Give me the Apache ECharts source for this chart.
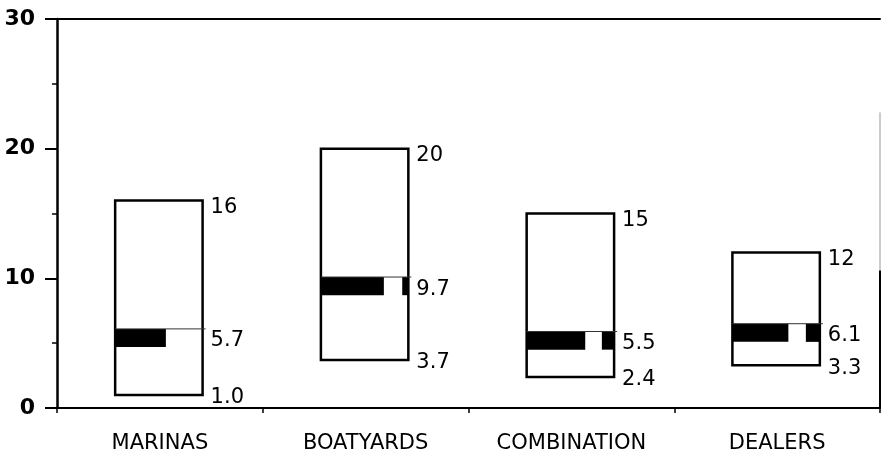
<!DOCTYPE html>
<html>
<head>
<meta charset="utf-8">
<script src="https://cdn.jsdelivr.net/npm/echarts@6/dist/echarts.min.js"></script>
<style>
  html, body { margin: 0; padding: 0; background: #fff; }
  #chart { width: 883px; height: 461px; }
</style>
</head>
<body>
<div id="chart"></div>
<script>
const categories = ['MARINAS', 'BOATYARDS', 'COMBINATION', 'DEALERS'];
const maxValues = [16, 20, 15, 12];
const medianValues = [5.7, 9.7, 5.5, 6.1];
const minValues = [1.0, 3.7, 2.4, 3.3];

// black median band pieces, as fractions of the box width
const bandPieces = [
    [[0, 0.58]],
    [[0, 0.72], [0.93, 1]],
    [[0, 0.67], [0.86, 1]],
    [[0, 0.64], [0.84, 1]]
];

const FONT = 'DejaVu Sans';

function renderBox(params, api) {
    const i = api.value(0);
    const lo = api.value(1), med = api.value(2), hi = api.value(3);
    const cx = api.coord([i, 0])[0];
    const w = api.size([1, 0])[0] * 0.425;
    const left = cx - w / 2 - 1;
    const right = left + w;
    const yHi = api.coord([i, hi])[1];
    const yLo = api.coord([i, lo])[1];
    const bandTop = api.coord([i, med + 0.4])[1];
    const bandBot = api.coord([i, med - 1.0])[1];

    const children = [{
        type: 'rect',
        shape: { x: left, y: yHi, width: w, height: yLo - yHi },
        style: { fill: '#fff', stroke: '#000', lineWidth: 2.5 }
    }];
    bandPieces[i].forEach(function (p) {
        children.push({
            type: 'rect',
            shape: { x: left + w * p[0], y: bandTop, width: w * (p[1] - p[0]), height: bandBot - bandTop },
            style: { fill: '#000' }
        });
    });
    children.push({
        type: 'line',
        shape: { x1: left, y1: bandTop, x2: right + 3, y2: bandTop },
        style: { stroke: '#333', lineWidth: 1 }
    });

    const label = function (text, y) {
        return {
            type: 'text',
            style: {
                text: text, x: right + 8, y: y,
                fill: '#000', fontSize: 21, fontFamily: FONT,
                align: 'left', verticalAlign: 'middle'
            }
        };
    };
    children.push(label(String(hi), yHi + 7));
    children.push(label(med.toFixed(1), (bandTop + bandBot) / 2 + 3));
    children.push(label(lo.toFixed(1), yLo + 3));

    return { type: 'group', children: children };
}

function renderFrame(params, api) {
    const cs = params.coordSys;
    const x = cs.x + cs.width;
    const yA = api.coord([0, 22.8])[1];
    const yB = api.coord([0, 10.6])[1];
    const yC = api.coord([0, 0])[1];
    return {
        type: 'group',
        children: [
            { type: 'line', shape: { x1: x, y1: yA, x2: x, y2: yB }, style: { stroke: '#999', lineWidth: 1 } },
            { type: 'line', shape: { x1: x, y1: yB, x2: x, y2: yC }, style: { stroke: '#000', lineWidth: 2 } }
        ]
    };
}

const chart = echarts.init(document.getElementById('chart'));
chart.setOption({
    animation: false,
    backgroundColor: '#fff',
    grid: { left: 57, right: 3, top: 19, bottom: 53 },
    xAxis: [{
        type: 'category',
        data: categories,
        boundaryGap: true,
        axisLine: { show: true, lineStyle: { color: '#000', width: 2 } },
        axisTick: { show: true, length: 5, lineStyle: { color: '#000', width: 1.5 } },
        axisLabel: { color: '#000', fontSize: 21, fontFamily: FONT, margin: 25 }
    }, {
        type: 'category',
        data: categories,
        position: 'top',
        axisLine: { show: true, lineStyle: { color: '#000', width: 2 } },
        axisTick: { show: false },
        axisLabel: { show: false }
    }],
    yAxis: {
        type: 'value',
        min: 0,
        max: 30,
        interval: 10,
        axisLine: { show: true, lineStyle: { color: '#000', width: 2.5 } },
        axisTick: { show: true, length: 12, lineStyle: { color: '#000', width: 2 } },
        minorTick: { show: true, splitNumber: 2, length: 5, lineStyle: { color: '#000', width: 1.5 } },
        splitLine: { show: false },
        axisLabel: { color: '#000', fontSize: 22, fontWeight: 'bold', fontFamily: FONT, margin: 22 }
    },
    series: [{
        type: 'custom',
        renderItem: renderBox,
        encode: { x: 0, y: [1, 2, 3] },
        data: categories.map(function (c, i) {
            return [i, minValues[i], medianValues[i], maxValues[i]];
        }),
        z: 3
    }, {
        type: 'custom',
        renderItem: renderFrame,
        data: [[0]],
        silent: true,
        z: 2
    }]
});
</script>
</body>
</html>
